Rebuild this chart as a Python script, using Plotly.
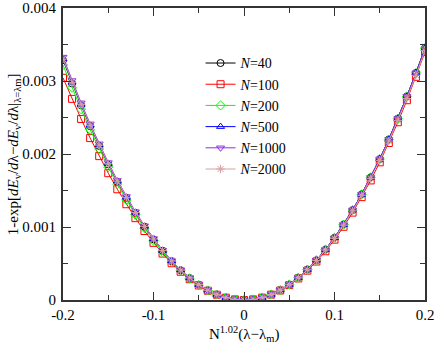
import plotly.graph_objects as go

x = [round(-0.2 + 0.01 * i, 2) for i in range(41)]

# left half (-0.2 .. -0.01), zero at 0, right half (0.01 .. 0.2)
n40 = [0.003285, 0.002967, 0.002667, 0.002381, 0.002111, 0.001858, 0.001620, 0.001399, 0.001193, 0.001004,
       0.000831, 0.000674, 0.000532, 0.000408, 0.000300, 0.000209, 0.000133, 0.000076, 0.000034, 0.000008,
       0.0,
       0.000008, 0.000034, 0.000076, 0.000136, 0.000212, 0.000306, 0.000417, 0.000545, 0.000691, 0.000853,
       0.001034, 0.001232, 0.001447, 0.001680, 0.001931, 0.002199, 0.002485, 0.002789, 0.003111, 0.003451]
n100 = [0.003044, 0.002755, 0.002480, 0.002218, 0.001971, 0.001737, 0.001517, 0.001312, 0.001121, 0.000945,
        0.000783, 0.000636, 0.000504, 0.000387, 0.000285, 0.000199, 0.000127, 0.000072, 0.000032, 0.000008,
        0.0,
        0.000008, 0.000032, 0.000073, 0.000130, 0.000204, 0.000295, 0.000402, 0.000527, 0.000668, 0.000827,
        0.001003, 0.001197, 0.001409, 0.001638, 0.001886, 0.002151, 0.002435, 0.002737, 0.003057, 0.003396]
n200 = [0.003219, 0.002907, 0.002613, 0.002333, 0.002069, 0.001820, 0.001587, 0.001371, 0.001169, 0.000984,
        0.000814, 0.000660, 0.000522, 0.000400, 0.000294, 0.000205, 0.000131, 0.000074, 0.000033, 0.000008,
        0.0,
        0.000008, 0.000034, 0.000076, 0.000136, 0.000212, 0.000306, 0.000417, 0.000545, 0.000691, 0.000853,
        0.001034, 0.001232, 0.001447, 0.001680, 0.001931, 0.002199, 0.002485, 0.002789, 0.003111, 0.003448]
n500 = [0.003301, 0.002982, 0.002680, 0.002393, 0.002122, 0.001867, 0.001628, 0.001406, 0.001199, 0.001009,
        0.000835, 0.000677, 0.000535, 0.000410, 0.000302, 0.000210, 0.000134, 0.000076, 0.000034, 0.000008,
        0.0,
        0.000008, 0.000034, 0.000076, 0.000136, 0.000212, 0.000306, 0.000417, 0.000545, 0.000691, 0.000853,
        0.001034, 0.001232, 0.001447, 0.001680, 0.001931, 0.002199, 0.002485, 0.002789, 0.003111, 0.003445]
n1000 = [0.003327, 0.003006, 0.002701, 0.002412, 0.002139, 0.001882, 0.001641, 0.001417, 0.001209, 0.001017,
         0.000842, 0.000682, 0.000539, 0.000413, 0.000304, 0.000212, 0.000135, 0.000077, 0.000034, 0.000008,
         0.0,
         0.000008, 0.000034, 0.000076, 0.000136, 0.000212, 0.000306, 0.000417, 0.000545, 0.000691, 0.000853,
         0.001034, 0.001232, 0.001447, 0.001680, 0.001931, 0.002199, 0.002485, 0.002789, 0.003111, 0.003440]
n2000 = [0.003301, 0.002982, 0.002680, 0.002393, 0.002122, 0.001867, 0.001628, 0.001406, 0.001199, 0.001009,
         0.000835, 0.000677, 0.000535, 0.000410, 0.000302, 0.000210, 0.000134, 0.000076, 0.000034, 0.000008,
         0.0,
         0.000008, 0.000034, 0.000075, 0.000135, 0.000210, 0.000303, 0.000413, 0.000540, 0.000684, 0.000844,
         0.001024, 0.001220, 0.001433, 0.001663, 0.001912, 0.002177, 0.002460, 0.002761, 0.003080, 0.003416]

series = [("40", n40, "black", "circle-open"),
          ("100", n100, "#ff0000", "square-open"),
          ("200", n200, "#00ff00", "diamond-open"),
          ("500", n500, "#0000ff", "triangle-up-open"),
          ("1000", n1000, "#8b30e0", "triangle-down-open"),
          ("2000", n2000, "#d8a0a0", "asterisk-open")]

fig = go.Figure()
for name, y, col, sym in series:
    fig.add_trace(go.Scatter(x=x, y=y, mode="lines+markers", name="<i>N</i>=" + name,
                             line=dict(color=col, width=1),
                             marker=dict(symbol=sym, size=7, color=col, line=dict(color=col, width=1))))

font = "Liberation Serif, Times New Roman, serif"
axis = dict(showline=True, linecolor="#333", linewidth=2, mirror="allticks", ticks="inside",
            ticklen=8, tickwidth=1, tickcolor="#333", showgrid=False, zeroline=False, automargin=False,
            ticklabeloverflow="allow", tickfont=dict(family=font, size=15, color="black"))

fig.update_xaxes(range=[-0.2, 0.2], tickvals=[-0.2, -0.1, 0, 0.1, 0.2], ticktext=["-0.2", "-0.1", "0", "0.1", "0.2"],
                 minor=dict(ticks="inside", ticklen=5, tickcolor="#333", dtick=0.05, tick0=0),
                 ticklabelstandoff=0, **axis)
fig.update_yaxes(range=[0, 0.004], tickvals=[0, 0.001, 0.002, 0.003, 0.004],
                 ticktext=["0", "0.001", "0.002", "0.003", "0.004"],
                 minor=dict(ticks="inside", ticklen=5, tickcolor="#333", dtick=0.0005, tick0=0),
                 ticklabelstandoff=2, **axis)

fig.add_annotation(text="N<sup>1.02</sup>(λ−λ<sub>m</sub>)", xref="paper", yref="paper", x=0.5, y=-0.075,
                   xanchor="center", yanchor="top", showarrow=False,
                   font=dict(family=font, size=15, color="black"))
fig.add_annotation(text="1-exp[<i>dE</i><sub>v</sub>/<i>d</i>λ−<i>dE</i><sub>v</sub>/<i>d</i>λ|<sub>λ=λm</sub>]",
                   xref="paper", yref="paper", x=-0.135, y=0.5, xanchor="center", yanchor="middle",
                   textangle=-90, showarrow=False, font=dict(family=font, size=15, color="black"))

fig.update_layout(width=436, height=346, margin=dict(l=63, r=11, t=8, b=46),
                  paper_bgcolor="white", plot_bgcolor="white",
                  legend=dict(x=0.38, y=0.865, xanchor="left", yanchor="top", bgcolor="rgba(0,0,0,0)",
                              font=dict(family=font, size=14, color="black"), tracegroupgap=0,
                              itemwidth=30))
# page body has a default 8px margin; drop it so the figure sits at the corner
fig.write_html("out.html", config={"displayModeBar": False},
               post_script="document.body.style.margin='0';")
